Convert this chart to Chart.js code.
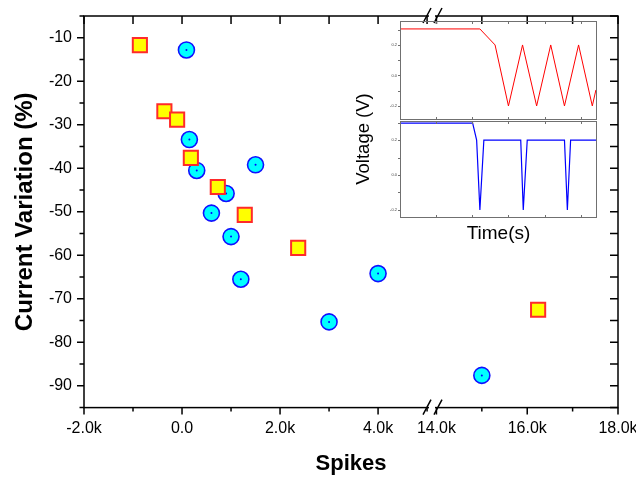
<!DOCTYPE html>
<html>
<head>
<meta charset="utf-8">
<script src="https://cdn.jsdelivr.net/npm/chart.js@4.4.1/dist/chart.umd.min.js"></script>
<style>
  html, body { margin: 0; padding: 0; background: #fff; }
  #wrap { position: relative; width: 636px; height: 477px; }
  #wrap canvas { position: absolute; }
</style>
</head>
<body>
<div id="wrap">
  <canvas id="mainChart" width="636" height="477" style="left:0;top:0"></canvas>
  <canvas id="insetTop" width="230" height="111" style="left:370px;top:11px"></canvas>
  <canvas id="insetBottom" width="230" height="140" style="left:370px;top:111px"></canvas>
</div>
<script>
// main plot: spikes vs current variation (%)
const circleSpikes = [90, 150, 300, 600, 900, 1000, 1200, 1500, 3000, 4000];
const circleVariation = [-12.8, -33.4, -40.5, -50.3, -45.8, -55.7, -65.5, -39.2, -75.3, -64.2];
const circleSpikesHigh = [15000];
const circleVariationHigh = [-87.6];

const squareSpikes = [-860, -360, -100, 180, 730, 1280, 2370];
const squareVariation = [-11.7, -26.9, -28.8, -37.6, -44.3, -50.7, -58.3];
const squareSpikesHigh = [16240];
const squareVariationHigh = [-72.5];

// broken x axis: tick values of the two segments
const spikeTicksLow = [-2000, -1000, 0, 1000, 2000, 3000, 4000, 5000];
const spikeTicksHigh = [14000, 15000, 16000, 17000, 18000];

// inset: voltage traces (time in arbitrary units)
const redTime = [0, 2.21, 2.63, 3.0, 3.39, 3.78, 4.17, 4.55, 4.94, 5.32, 5.42];
const redVoltage = [0.305, 0.305, 0.2, -0.2, 0.2, -0.2, 0.2, -0.2, 0.2, -0.2, -0.095];
const blueTime = [0, 2.01, 2.12, 2.21, 2.32, 3.34, 3.41, 3.52, 4.55, 4.63, 4.72, 5.45];
const blueVoltage = [0.297, 0.297, 0.2, -0.2, 0.2, 0.2, -0.2, 0.2, 0.2, -0.2, 0.2, 0.2];
const insetTimeTicks = [1, 2, 3, 4, 5];

Chart.defaults.font.family = "'Liberation Sans', Arial, sans-serif";
Chart.defaults.color = '#000';

function toPoints(xs, ys) {
    return xs.map((x, i) => ({ x: x, y: ys[i] }));
}

function spikeLabel(value) {
    if (value % 2000 !== 0) return '';
    if (value === 0) return '0.0';
    return (value / 1000).toFixed(1) + 'k';
}

function spikeAxis(min, max, weight, tickValues) {
    return {
        type: 'linear',
        position: 'bottom',
        stack: 'spikes',
        stackWeight: weight,
        min: min,
        max: max,
        afterBuildTicks: function(scale) {
            scale.ticks = tickValues.map(v => ({ value: v }));
        },
        ticks: {
            autoSkip: false, maxRotation: 0,
            padding: 11, font: { size: 16 }, callback: spikeLabel
        },
        grid: { display: false, drawTicks: false },
        border: { display: false },
        afterFit: function(scale) {
            scale.height = 40;
            scale.paddingLeft = 0;
            scale.paddingRight = 0;
        }
    };
}

// frame, inward/outward ticks, axis break marks and the inset's y title
const frameAndTicks = {
    id: 'frameAndTicks',
    afterDraw(chart) {
        const { ctx, chartArea: a, scales } = chart;
        const xl = scales.x, xh = scales.xHigh, y = scales.y;
        ctx.save();
        ctx.strokeStyle = '#000';
        ctx.lineWidth = 1.5;
        ctx.strokeRect(a.left, a.top, a.right - a.left, a.bottom - a.top);
        ctx.beginPath();
        y.ticks.forEach(t => {
            const py = y.getPixelForValue(t.value);
            const len = t.value % 10 === 0 ? 7 : 4.5;
            ctx.moveTo(a.left - len, py); ctx.lineTo(a.left, py);
            ctx.moveTo(a.right, py); ctx.lineTo(a.right - 8, py);
        });
        [xl, xh].forEach(s => s.ticks.forEach(t => {
            const px = s.getPixelForValue(t.value);
            const len = t.value % 2000 === 0 ? 7 : 4;
            ctx.moveTo(px, a.bottom); ctx.lineTo(px, a.bottom + len);
            ctx.moveTo(px, a.top); ctx.lineTo(px, a.top + 8);
        }));
        ctx.stroke();

        const bx = xl.right + 1;
        [a.top, a.bottom].forEach(by => {
            ctx.fillStyle = '#fff';
            ctx.fillRect(bx - 3, by - 2, 6, 4);
            ctx.beginPath();
            ctx.moveTo(bx - 9, by + 7); ctx.lineTo(bx - 1, by - 8);
            ctx.moveTo(bx + 2, by + 7); ctx.lineTo(bx + 10, by - 8);
            ctx.stroke();
        });

        ctx.translate(364, 139);
        ctx.rotate(-Math.PI / 2);
        ctx.fillStyle = '#000';
        ctx.font = "18.5px 'Liberation Sans', Arial, sans-serif";
        ctx.textAlign = 'center';
        ctx.textBaseline = 'middle';
        ctx.fillText('Voltage (V)', 0, 0);
        ctx.restore();
    }
};

new Chart(document.getElementById('mainChart'), {
    type: 'scatter',
    data: {
        datasets: [
            { data: toPoints(squareSpikes, squareVariation), xAxisID: 'x', pointStyle: 'rect',
              pointRadius: 10, backgroundColor: '#ffff00', borderColor: '#ff2a2a', borderWidth: 2 },
            { data: toPoints(squareSpikesHigh, squareVariationHigh), xAxisID: 'xHigh', pointStyle: 'rect',
              pointRadius: 10, backgroundColor: '#ffff00', borderColor: '#ff2a2a', borderWidth: 2 },
            { data: toPoints(circleSpikes, circleVariation), xAxisID: 'x',
              pointRadius: 1, backgroundColor: '#0000ff', borderWidth: 0 },
            { data: toPoints(circleSpikesHigh, circleVariationHigh), xAxisID: 'xHigh',
              pointRadius: 1, backgroundColor: '#0000ff', borderWidth: 0 },
            { data: toPoints(circleSpikes, circleVariation), xAxisID: 'x',
              pointRadius: 8, backgroundColor: '#00ffff', borderColor: '#1010ff', borderWidth: 1.6 },
            { data: toPoints(circleSpikesHigh, circleVariationHigh), xAxisID: 'xHigh',
              pointRadius: 8, backgroundColor: '#00ffff', borderColor: '#1010ff', borderWidth: 1.6 }
        ]
    },
    options: {
        responsive: false,
        animation: false,
        devicePixelRatio: 1,
        layout: { padding: { top: 16, right: 18, bottom: 0, left: 0 } },
        plugins: {
            legend: { display: false },
            tooltip: { enabled: false },
            title: {
                display: true, text: 'Spikes', position: 'bottom', fullSize: false,
                font: { size: 22, weight: 'bold' }, padding: { top: 3, bottom: 0 }
            }
        },
        scales: {
            x: spikeAxis(-2000, 5080, 347, spikeTicksLow),
            xHigh: spikeAxis(13880, 18000, 187, spikeTicksHigh),
            y: {
                min: -95,
                max: -5,
                ticks: {
                    stepSize: 5, autoSkip: false, padding: 12, font: { size: 16 },
                    callback: v => (v % 10 === 0 ? String(v) : '')
                },
                grid: { display: false, drawTicks: false },
                border: { display: false },
                title: {
                    display: true, text: 'Current Variation (%)',
                    font: { size: 24, weight: 'bold' }, padding: { top: 11, bottom: 0 }
                },
                afterFit: function(scale) {
                    scale.width = 84;
                    scale.paddingTop = 0;
                    scale.paddingBottom = 0;
                }
            }
        }
    },
    plugins: [frameAndTicks]
});

// inset panels
const panelFrame = {
    id: 'panelFrame',
    afterDraw(chart) {
        const { ctx, chartArea: a, scales: { x, y } } = chart;
        ctx.save();
        ctx.strokeStyle = '#707070';
        ctx.lineWidth = 1;
        ctx.strokeRect(a.left + 0.5, a.top + 0.5, a.width - 1, a.height - 1);
        ctx.beginPath();
        y.ticks.forEach(t => {
            const py = Math.round(y.getPixelForValue(t.value)) + 0.5;
            ctx.moveTo(a.left - 2, py); ctx.lineTo(a.left, py);
        });
        insetTimeTicks.forEach(v => {
            const px = Math.round(x.getPixelForValue(v)) + 0.5;
            ctx.moveTo(px, a.bottom); ctx.lineTo(px, a.bottom - 3);
            ctx.moveTo(px, a.top); ctx.lineTo(px, a.top + 3);
        });
        ctx.stroke();
        ctx.restore();
    }
};

function voltageLabel(v) {
    const tenths = Math.round(v * 10);
    return tenths % 2 === 0 ? (tenths / 10).toFixed(1) : '';
}

function insetOptions(yMin, yMax, padding, xAxis) {
    return {
        responsive: false,
        animation: false,
        devicePixelRatio: 1,
        layout: { padding: padding },
        plugins: { legend: { display: false }, tooltip: { enabled: false } },
        scales: {
            x: xAxis,
            y: {
                min: yMin,
                max: yMax,
                ticks: {
                    stepSize: 0.1, includeBounds: false, autoSkip: false, padding: 3,
                    font: { size: 4 }, color: '#444', callback: voltageLabel
                },
                grid: { display: false, drawTicks: false },
                border: { display: false },
                afterFit: function(scale) {
                    scale.width = 30;
                    scale.paddingTop = 0;
                    scale.paddingBottom = 0;
                }
            }
        }
    };
}

new Chart(document.getElementById('insetTop'), {
    type: 'scatter',
    data: {
        datasets: [{
            data: toPoints(redTime, redVoltage), showLine: true, borderColor: '#ff0000',
            borderWidth: 1, pointRadius: 0, tension: 0
        }]
    },
    options: insetOptions(-0.292, 0.357, { top: 10, right: 3, bottom: 2, left: 0 },
        { type: 'linear', display: false, min: 0, max: 5.45 }),
    plugins: [panelFrame]
});

new Chart(document.getElementById('insetBottom'), {
    type: 'scatter',
    data: {
        datasets: [{
            data: toPoints(blueTime, blueVoltage), showLine: true, borderColor: '#0000ff',
            borderWidth: 1.2, pointRadius: 0, tension: 0
        }]
    },
    options: insetOptions(-0.246, 0.309, { top: 10, right: 3, bottom: 0, left: 0 }, {
        type: 'linear', min: 0, max: 5.45,
        ticks: { display: false },
        grid: { display: false, drawTicks: false },
        border: { display: false },
        title: {
            display: true, text: 'Time(s)', font: { size: 19 },
            padding: { top: 0, bottom: 5.6 }
        },
        afterFit: function(scale) {
            scale.height = 33;
            scale.paddingLeft = 0;
            scale.paddingRight = 0;
        }
    }),
    plugins: [panelFrame]
});
</script>
</body>
</html>
